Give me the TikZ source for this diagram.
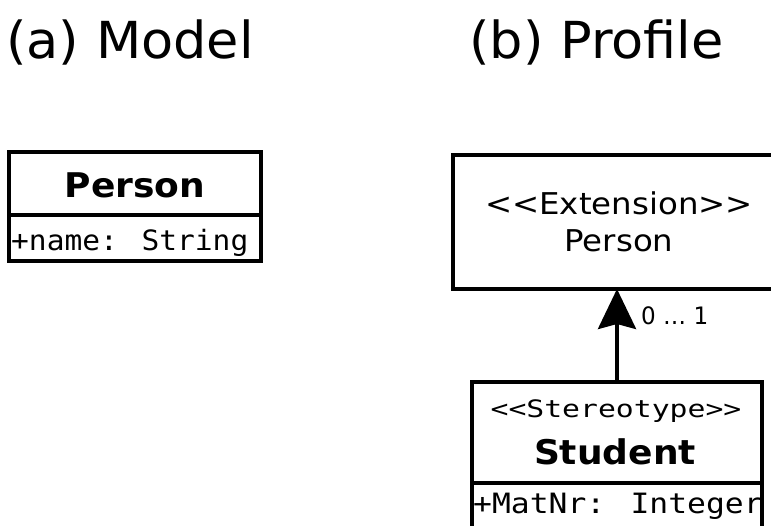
\documentclass[tikz,border=0pt]{standalone}
\usepackage{fontspec}
\setmainfont{DejaVu Sans}
\usetikzlibrary{arrows.meta}
\newfontfamily\titlefont[FakeStretch=1.03]{DejaVu Sans}
\newfontfamily\namefont[FakeStretch=1.06]{DejaVu Sans}
\newfontfamily\extfont[FakeStretch=1.08]{DejaVu Sans}
\newfontfamily\multfont[FakeStretch=0.96]{DejaVu Sans}
\newfontfamily\attrfont[FakeStretch=1.055]{DejaVu Sans Mono}
\newfontfamily\attrwidefont[FakeStretch=1.12]{DejaVu Sans Mono}
\newfontfamily\stereofont[FakeStretch=1.24]{DejaVu Sans Mono}

\begin{document}
\begin{tikzpicture}[x=1pt,y=-1pt,
  compartment/.style={draw, line width=3.8pt, inner sep=0pt, outer sep=0pt},
  heading/.style={anchor=base west, inner sep=0pt, font=\titlefont\fontsize{51}{60}\selectfont},
  classname/.style={anchor=base, inner sep=0pt, font=\namefont\bfseries\fontsize{34}{40}\selectfont},
  exttext/.style={anchor=base, inner sep=0pt, font=\extfont\fontsize{30}{37}\selectfont},
  attrtext/.style={anchor=base west, inner sep=0pt},
  stereotext/.style={anchor=base, inner sep=0pt, font=\stereofont\fontsize{24}{28}\selectfont},
  multtext/.style={anchor=base west, inner sep=0pt, font=\multfont\fontsize{24}{28}\selectfont},
  extends/.style={line width=3.8pt, -{Stealth[length=40pt, width=38pt, inset=5pt]}}]
\useasboundingbox (0,0) rectangle (771,525);
\clip (0,0) rectangle (771,525);

% panel headings
\node[heading] (titleA) at (6,58) {(a) Model};
\node[heading] (titleB) at (469,58) {(b) Profile};

% (a) plain class
\node[compartment, minimum width=252pt, minimum height=63.5pt] (personHead) at (135,183.5) {};
\node[compartment, minimum width=252pt, minimum height=46pt, anchor=north] (personAttrs) at (personHead.south) {};
\node[classname] (personName) at (135,197) {Person};
\node[attrtext, font=\attrfont\fontsize{28}{32}\selectfont] (personAttr) at (11,250) {+name: String};

% (b) extended metaclass
\node[compartment, minimum width=332pt, minimum height=134pt] (extBox) at (619,222) {};
\node[exttext] (extStereo) at (619,214) {<\kern0pt<Extension>\kern0pt>};
\node[exttext] (extName) at (619,251) {Person};

% (b) stereotype
\node[compartment, minimum width=290pt, minimum height=101pt] (studentHead) at (617,432.5) {};
\node[compartment, minimum width=290pt, minimum height=60pt, anchor=north] (studentAttrs) at (studentHead.south) {};
\node[stereotext] (studentStereo) at (616,417) {<\kern0pt<Stereotype>\kern0pt>};
\node[classname] (studentName) at (615,464) {Student};
\node[attrtext, font=\attrwidefont\fontsize{28}{32}\selectfont] (studentAttr) at (473,513) {+MatNr: Integer};

% extension association
\draw[extends] (studentHead.north) -- (studentHead.north |- extBox.south);
\node[multtext] (mult) at (641,324) {0 … 1};
\end{tikzpicture}
\end{document}
